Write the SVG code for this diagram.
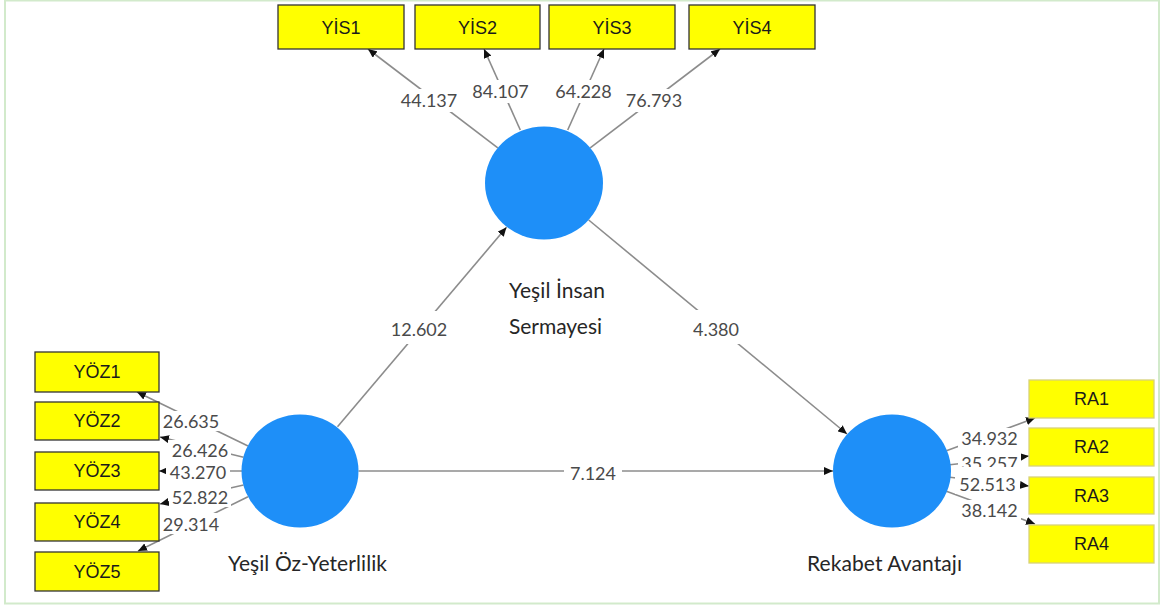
<svg xmlns="http://www.w3.org/2000/svg" width="1163" height="610" viewBox="0 0 1163 610">
<style>
.frame{fill:#fff;stroke:#d2eacb;stroke-width:2}
.conn{stroke:#8c8c8c;stroke-width:1.6;fill:none;marker-end:url(#arr)}
.bg{fill:#fff}
.num{font-family:Lato,"Open Sans","Liberation Sans",sans-serif;font-size:18px;fill:#4a4a4a;text-anchor:middle}
.lv{fill:#1e8ff8}
.lvt{font-family:Lato,"Open Sans","Liberation Sans",sans-serif;font-size:21px;fill:#262626}
.ind{fill:#ffff00;stroke:#333;stroke-width:1.3}
.indRA{fill:#ffff00;stroke:#d8d27a;stroke-width:1.3}
.indt{font-family:"Liberation Sans",Arial,sans-serif;font-size:18px;fill:#1a1a1a;text-anchor:middle}
</style>
<defs>
<marker id="arr" markerUnits="userSpaceOnUse" markerWidth="9" markerHeight="8" refX="9" refY="4" orient="auto">
<path d="M0,0 L9,4 L0,8 z" fill="#111"/>
</marker>
</defs>
<rect class="frame" x="5" y="0.5" width="1154" height="603"/>
<g id="connectors">
<line class="conn" x1="497.8" y1="147.9" x2="368" y2="49"/>
<line class="conn" x1="520.3" y1="130" x2="484" y2="49"/>
<line class="conn" x1="567.7" y1="130" x2="604" y2="49"/>
<line class="conn" x1="590.2" y1="147.9" x2="720" y2="49"/>
<line class="conn" x1="248" y1="446" x2="137" y2="392"/>
<line class="conn" x1="243.6" y1="457.3" x2="160" y2="437"/>
<line class="conn" x1="242" y1="471" x2="159" y2="471"/>
<line class="conn" x1="243.6" y1="485" x2="160" y2="504"/>
<line class="conn" x1="248" y1="496.7" x2="138" y2="551"/>
<line class="conn" x1="946.4" y1="450.8" x2="1035" y2="418"/>
<line class="conn" x1="949.7" y1="464.7" x2="1029" y2="456"/>
<line class="conn" x1="949.7" y1="477.3" x2="1029" y2="486"/>
<line class="conn" x1="946.4" y1="491.2" x2="1035" y2="524"/>
<line class="conn" x1="337.5" y1="426.7" x2="506.5" y2="227.3"/>
<line class="conn" x1="588.7" y1="220" x2="847" y2="434"/>
<line class="conn" x1="358.5" y1="471" x2="833" y2="471"/>
<rect class="bg" x="397" y="89" width="64" height="23"/>
<text class="num" x="429" y="107">44.137</text>
<rect class="bg" x="469" y="80" width="63" height="23"/>
<text class="num" x="500.5" y="98">84.107</text>
<rect class="bg" x="552" y="80" width="63" height="23"/>
<text class="num" x="583.5" y="98">64.228</text>
<rect class="bg" x="622" y="89" width="64" height="23"/>
<text class="num" x="654" y="107">76.793</text>
<rect class="bg" x="161" y="411" width="62" height="20"/>
<text class="num" x="191" y="428">26.635</text>
<rect class="bg" x="168" y="440" width="63" height="20"/>
<text class="num" x="200" y="457">26.426</text>
<rect class="bg" x="166" y="463" width="64" height="19"/>
<text class="num" x="198" y="479">43.270</text>
<rect class="bg" x="169" y="487" width="62" height="20"/>
<text class="num" x="200" y="504">52.822</text>
<rect class="bg" x="160" y="513" width="63" height="21"/>
<text class="num" x="191" y="531">29.314</text>
<rect class="bg" x="958" y="428" width="63" height="20"/>
<text class="num" x="989.5" y="445">34.932</text>
<rect class="bg" x="958" y="453" width="63" height="18"/>
<text class="num" x="989.5" y="470">35.257</text>
<rect class="bg" x="955" y="467" width="65" height="27"/>
<text class="num" x="987.5" y="491">52.513</text>
<rect class="bg" x="958" y="500" width="63" height="20"/>
<text class="num" x="989.5" y="517">38.142</text>
<rect class="bg" x="389" y="311" width="61" height="33"/>
<text class="num" x="419" y="336">12.602</text>
<rect class="bg" x="690" y="310" width="52" height="34"/>
<text class="num" x="716" y="336">4.380</text>
<rect class="bg" x="564" y="462" width="58" height="20"/>
<text class="num" x="593" y="480">7.124</text>
</g>
<g id="node-YIS">
<ellipse class="lv" cx="544" cy="183" rx="59" ry="56.5"/>
<text class="lvt" x="509" y="298" textLength="96" lengthAdjust="spacing">Yeşil İnsan</text>
<text class="lvt" x="509" y="334" textLength="93" lengthAdjust="spacing">Sermayesi</text>
</g>
<g id="node-YOZ">
<ellipse class="lv" cx="300" cy="471" rx="58.5" ry="56.5"/>
<text class="lvt" x="228" y="571" textLength="159" lengthAdjust="spacing">Yeşil Öz-Yeterlilik</text>
</g>
<g id="node-RA">
<ellipse class="lv" cx="892" cy="471" rx="59" ry="56.5"/>
<text class="lvt" x="807" y="571" textLength="155" lengthAdjust="spacing">Rekabet Avantajı</text>
</g>
<g id="node-YIS1"><rect class="ind" x="278" y="5" width="126" height="44"/><text class="indt" x="341" y="34">YİS1</text></g>
<g id="node-YIS2"><rect class="ind" x="415" y="5" width="125" height="44"/><text class="indt" x="477.5" y="34">YİS2</text></g>
<g id="node-YIS3"><rect class="ind" x="549" y="5" width="126" height="44"/><text class="indt" x="612" y="34">YİS3</text></g>
<g id="node-YIS4"><rect class="ind" x="689" y="5" width="126" height="44"/><text class="indt" x="752" y="34">YİS4</text></g>
<g id="node-YOZ1"><rect class="ind" x="35" y="352" width="124" height="40"/><text class="indt" x="97" y="378">YÖZ1</text></g>
<g id="node-YOZ2"><rect class="ind" x="35" y="402" width="124" height="38"/><text class="indt" x="97" y="427">YÖZ2</text></g>
<g id="node-YOZ3"><rect class="ind" x="35" y="452" width="124" height="38"/><text class="indt" x="97" y="477">YÖZ3</text></g>
<g id="node-YOZ4"><rect class="ind" x="35" y="503" width="124" height="38"/><text class="indt" x="97" y="528">YÖZ4</text></g>
<g id="node-YOZ5"><rect class="ind" x="35" y="552" width="124" height="39"/><text class="indt" x="97" y="578">YÖZ5</text></g>
<g id="node-RA1"><rect class="indRA" x="1029" y="380" width="125" height="38"/><text class="indt" x="1091.5" y="405">RA1</text></g>
<g id="node-RA2"><rect class="indRA" x="1029" y="428" width="125" height="38"/><text class="indt" x="1091.5" y="453">RA2</text></g>
<g id="node-RA3"><rect class="indRA" x="1029" y="477" width="125" height="37"/><text class="indt" x="1091.5" y="502">RA3</text></g>
<g id="node-RA4"><rect class="indRA" x="1029" y="525" width="125" height="38"/><text class="indt" x="1091.5" y="550">RA4</text></g>
</svg>
